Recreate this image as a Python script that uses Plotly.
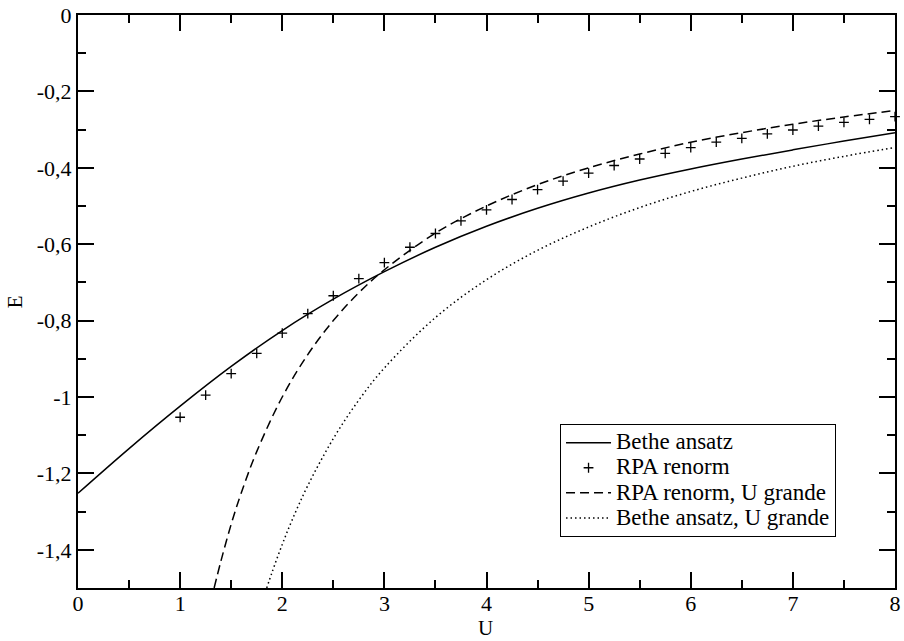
import plotly.graph_objects as go

# Bethe ansatz (solid)
bethe_u = [0, 0.5, 1.0, 1.5, 2.0, 2.5, 3.0, 3.5, 4.0, 4.5, 5.0, 5.5, 6.0, 6.5, 7.0, 7.5, 8.0]
bethe_e = [-1.252, -1.135, -1.024, -0.920, -0.826, -0.744, -0.672, -0.608, -0.553,
           -0.506, -0.466, -0.432, -0.403, -0.377, -0.353, -0.330, -0.308]

# RPA renorm (points)
rpa_u = [1.0, 1.25, 1.5, 1.75, 2.0, 2.25, 2.5, 2.75, 3.0, 3.25, 3.5, 3.75, 4.0, 4.25, 4.5,
         4.75, 5.0, 5.25, 5.5, 5.75, 6.0, 6.25, 6.5, 6.75, 7.0, 7.25, 7.5, 7.75, 8.0]
rpa_e = [-1.053, -0.995, -0.939, -0.886, -0.833, -0.782, -0.735, -0.690, -0.648, -0.608,
         -0.572, -0.539, -0.510, -0.483, -0.457, -0.435, -0.414, -0.394, -0.377, -0.362,
         -0.347, -0.333, -0.323, -0.311, -0.301, -0.291, -0.281, -0.273, -0.266]

# RPA renorm, U grande (dashed)
rpa_big_u = [1.333, 1.4, 1.5, 1.6, 1.75, 2.0, 2.25, 2.5, 2.75, 3.0, 3.5, 4.0, 4.5, 5.0,
             5.5, 6.0, 6.5, 7.0, 7.5, 8.0]
rpa_big_e = [-1.500, -1.429, -1.333, -1.250, -1.143, -1.000, -0.889, -0.800, -0.727, -0.667,
             -0.571, -0.500, -0.444, -0.400, -0.364, -0.333, -0.308, -0.286, -0.267, -0.250]

# Bethe ansatz, U grande (dotted)
bethe_big_u = [1.848, 1.9, 2.0, 2.1, 2.25, 2.5, 2.75, 3.0, 3.5, 4.0, 4.5, 5.0, 5.5, 6.0,
               6.5, 7.0, 7.5, 8.0]
bethe_big_e = [-1.500, -1.459, -1.386, -1.320, -1.232, -1.109, -1.008, -0.924, -0.792,
               -0.693, -0.616, -0.555, -0.504, -0.462, -0.427, -0.396, -0.370, -0.347]

series_names = ["Bethe ansatz", "RPA renorm", "RPA renorm, U grande", "Bethe ansatz, U grande"]

x_tickvals = [0, 1, 2, 3, 4, 5, 6, 7, 8]
x_ticktext = ["0", "1", "2", "3", "4", "5", "6", "7", "8"]
y_tickvals = [0, -0.2, -0.4, -0.6, -0.8, -1.0, -1.2, -1.4]
y_ticktext = ["0", "-0,2", "-0,4", "-0,6", "-0,8", "-1", "-1,2", "-1,4"]

FONT = "'Liberation Serif', 'DejaVu Serif', serif"


def leg(name):
    return '<span style="font-size:23px">' + name + '</span>'


fig = go.Figure()
fig.add_trace(go.Scatter(x=bethe_u, y=bethe_e, mode="lines", name=leg(series_names[0]),
                         line=dict(color="black", width=1.5, shape="spline")))
fig.add_trace(go.Scatter(x=rpa_u, y=rpa_e, mode="markers", name=leg(series_names[1]),
                         marker=dict(symbol="cross-thin", size=7, color="black",
                                     line=dict(color="black", width=1.3)),
                         cliponaxis=False))
fig.add_trace(go.Scatter(x=rpa_big_u, y=rpa_big_e, mode="lines", name=leg(series_names[2]),
                         line=dict(color="black", width=1.5, dash="9px,5px", shape="spline")))
fig.add_trace(go.Scatter(x=bethe_big_u, y=bethe_big_e, mode="lines", name=leg(series_names[3]),
                         line=dict(color="black", width=1.5, dash="1.5px,3px", shape="spline")))

axis_common = dict(
    showline=True, linecolor="black", linewidth=2, mirror="ticks",
    ticks="inside", ticklen=16, tickwidth=1.5, tickcolor="black",
    showgrid=False, zeroline=False, automargin=False,
    tickfont=dict(family=FONT, size=22, color="black"),
)

fig.update_xaxes(range=[0, 8], tickmode="array", tickvals=x_tickvals, ticktext=x_ticktext,
                 minor=dict(ticks="inside", ticklen=8, tickwidth=1.5, tickcolor="black",
                            tick0=0, dtick=0.5),
                 ticklabelstandoff=-5,
                 **axis_common)
fig.update_yaxes(range=[-1.5, 0], tickmode="array", tickvals=y_tickvals, ticktext=y_ticktext,
                 minor=dict(ticks="inside", ticklen=8, tickwidth=1.5, tickcolor="black",
                            tick0=0, dtick=0.1),
                 **axis_common)

fig.add_annotation(text="U", xref="paper", yref="paper", x=0.499, y=-0.070,
                   xanchor="center", yanchor="middle", showarrow=False,
                   font=dict(family=FONT, size=21, color="black"))
fig.add_annotation(text="E", xref="paper", yref="paper", x=-0.077, y=0.499,
                   xanchor="center", yanchor="middle", showarrow=False, textangle=-90,
                   font=dict(family=FONT, size=21, color="black"))

fig.update_layout(
    width=904, height=641,
    margin=dict(l=78, r=9, t=15, b=53),
    paper_bgcolor="white", plot_bgcolor="white",
    font=dict(family=FONT, size=22, color="black"),
    showlegend=True,
    legend=dict(x=0.59, y=0.286, xanchor="left", yanchor="top",
                bgcolor="white", bordercolor="black", borderwidth=1,
                font=dict(family=FONT, size=17, color="black"),
                tracegroupgap=0, itemwidth=45),
)

fig.write_html("out.html")
